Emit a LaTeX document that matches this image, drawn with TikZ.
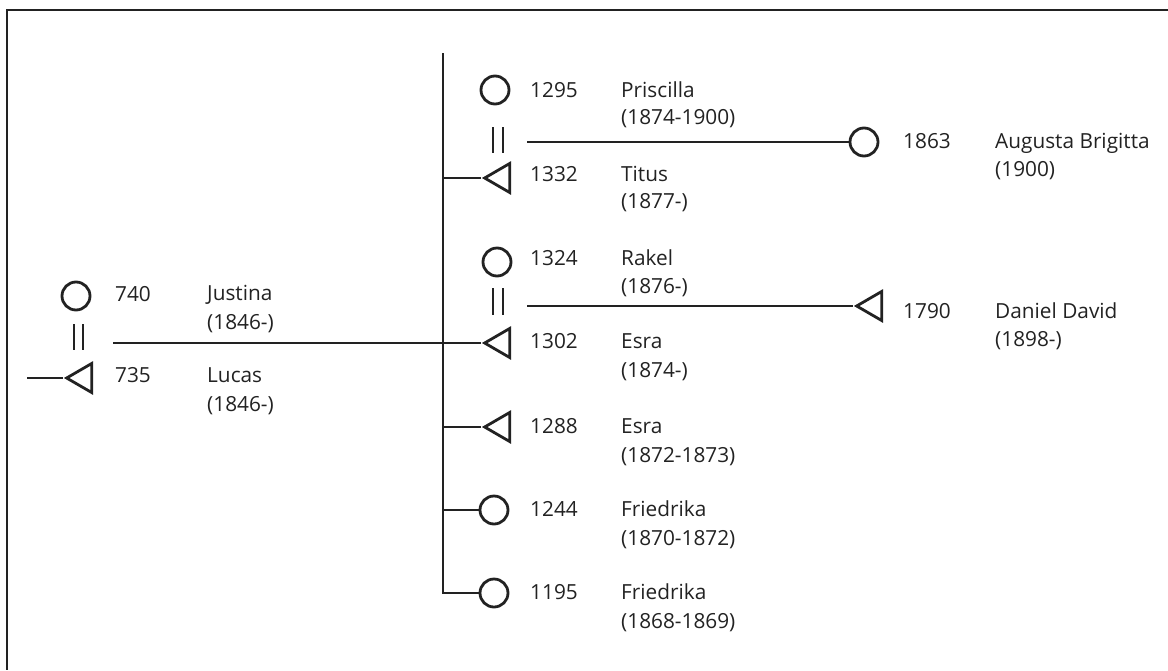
\documentclass[tikz,border=0pt]{standalone}
\usepackage{fontspec}
\setmainfont{Open Sans}
\usetikzlibrary{shapes.geometric}
\definecolor{ink}{HTML}{222222}
\tikzset{
  line/.style={draw=ink, line width=2.8pt},
  frame/.style={draw=ink, line width=1.8pt},
  fem/.style={circle, draw=ink, line width=2.8pt, minimum size=28pt, inner sep=0pt},
  mal/.style={isosceles triangle, shape border rotate=180, isosceles triangle stretches,
              draw=ink, line width=2.8pt, minimum height=25pt, minimum width=29pt, inner sep=0pt, anchor=apex},
  lbl/.style={anchor=base west, inner sep=0pt, text=ink, font=\fontsize{20.8}{24}\selectfont},
}
\begin{document}
\begin{tikzpicture}[x=1pt, y=-1pt]
\useasboundingbox (0,0) rectangle (1168,670);
% frame (top and left only)
\draw[frame] (1168,10) -- (7,10) -- (7,670);

% left couple
\node[fem] (c740) at (76,296) {};
\node[mal] (t735) at (63,378) {};
\coordinate (lucasin) at (27,378);
\draw[line] (lucasin) -- (t735.apex);
\draw[line] (74,324) -- (74,350) (83,324) -- (83,350);
\coordinate (m1) at (113,343);

% sibling line
\coordinate (vtop) at (443,53);
\coordinate (vbot) at (443,593);

% right column people
\node[fem] (c1295) at (495,90) {};
\node[mal] (t1332) at (481,178) {};
\node[fem] (c1324) at (497,262) {};
\node[mal] (t1302) at (481,343) {};
\node[mal] (t1288) at (481,427) {};
\node[fem] (c1244) at (494,510) {};
\node[fem] (c1195) at (494,593) {};

\draw[line] (vtop) -- (vbot) -- (c1195);
\draw[line] (m1) -- (t1302.apex);
\draw[line] (443,178) -- (t1332.apex);
\draw[line] (443,427) -- (t1288.apex);
\draw[line] (443,510) -- (c1244);

% marriage signs right
\draw[line] (493,127) -- (493,153) (503,127) -- (503,153);
\draw[line] (493,288) -- (493,315) (503,288) -- (503,315);

% far right
\node[fem] (c1863) at (864,142) {};
\node[mal] (t1790) at (853,306) {};
\coordinate (m2) at (527,142);
\coordinate (m3) at (527,306);
\draw[line] (m2) -- (c1863);
\draw[line] (m3) -- (t1790.apex);

% labels
\node[lbl] (n740) at (115,301) {740};
\node[lbl] (a740) at (207,300) {Justina};
\node[lbl] (b740) at (207,329) {(1846-)};
\node[lbl] (n735) at (115,382) {735};
\node[lbl] (a735) at (207,382) {Lucas};
\node[lbl] (b735) at (207,411) {(1846-)};

\node[lbl] (n1295) at (530,97) {1295};
\node[lbl] (a1295) at (621,97) {Priscilla};
\node[lbl] (b1295) at (621,124) {(1874-1900)};
\node[lbl] (n1332) at (530,181) {1332};
\node[lbl] (a1332) at (621,181) {Titus};
\node[lbl] (b1332) at (621,208) {(1877-)};
\node[lbl] (n1324) at (530,265) {1324};
\node[lbl] (a1324) at (621,265) {Rakel};
\node[lbl] (b1324) at (621,293) {(1876-)};
\node[lbl] (n1302) at (530,348) {1302};
\node[lbl] (a1302) at (621,348) {Esra};
\node[lbl] (b1302) at (621,377) {(1874-)};
\node[lbl] (n1288) at (530,433) {1288};
\node[lbl] (a1288) at (621,433) {Esra};
\node[lbl] (b1288) at (621,462) {(1872-1873)};
\node[lbl] (n1244) at (530,516) {1244};
\node[lbl] (a1244) at (621,516) {Friedrika};
\node[lbl] (b1244) at (621,545) {(1870-1872)};
\node[lbl] (n1195) at (530,599) {1195};
\node[lbl] (a1195) at (621,599) {Friedrika};
\node[lbl] (b1195) at (621,628) {(1868-1869)};

\node[lbl] (n1863) at (903,148) {1863};
\node[lbl] (a1863) at (995,148) {Augusta Brigitta};
\node[lbl] (b1863) at (995,176) {(1900)};
\node[lbl] (n1790) at (903,318) {1790};
\node[lbl] (a1790) at (995,318) {Daniel David};
\node[lbl] (b1790) at (995,346) {(1898-)};
\end{tikzpicture}
\end{document}
